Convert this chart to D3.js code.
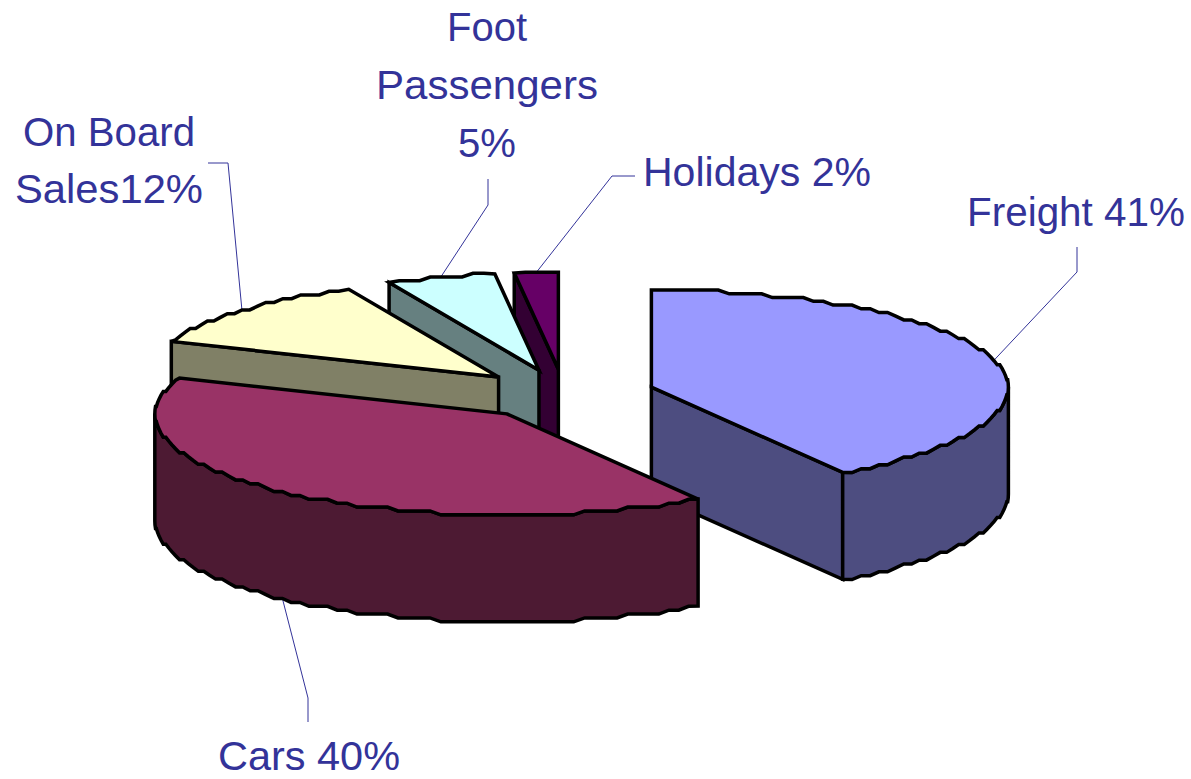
<!DOCTYPE html>
<html>
<head>
<meta charset="utf-8">
<script src="https://cdn.jsdelivr.net/npm/d3@7"></script>
<style>
  html, body { margin: 0; padding: 0; background: #fff; }
  svg { display: block; }
  text { font-family: "Liberation Sans", Arial, sans-serif; fill: #333399; }
</style>
</head>
<body>
<div id="chart"></div>
<script>
// chart values
var categories = ["Freight", "Cars", "On Board Sales", "Foot Passengers", "Holidays"];
var shares = [41, 40, 12, 5, 2];
var labelLines = [
    ["Freight 41%"],
    ["Cars 40%"],
    ["On Board", "Sales12%"],
    ["Foot", "Passengers", "5%"],
    ["Holidays 2%"]
];
var topColors = ["#9999ff", "#993366", "#ffffcc", "#ccffff", "#660066"];
var sideColors = ["#4d4d80", "#4d1a33", "#808066", "#668080", "#330033"];

// leader elbow + far end, and where the text sits (same order as categories)
var leaderEnds = [
    [[1077, 272], [1077, 247]],
    [[308, 698], [308, 722]],
    [[228, 163], [208, 163]],
    [[488, 205], [488, 179]],
    [[612, 176], [635, 176]]
];
var labelBoxes = [
    { x: 1076, y: 226, lh: 0, w: [218] },
    { x: 309, y: 770, lh: 0, w: [182] },
    { x: 109, y: 146, lh: 57, w: [172, 188] },
    { x: 487, y: 41, lh: 58, w: [80, 222, 58] },
    { x: 757, y: 186, lh: 0, w: [228] }
];

var width = 1191;
var height = 779;
var rxLeft = 352;
var rxRight = 357;
var ryBack = 97;
var ryFront = 101;
var depth = 107;
var cx = 564;
var cy = 394;
var explode = 91;
var stairs = 26;
var step = Math.PI / 100;

var svg = d3.select("#chart").append("svg")
    .attr("width", width)
    .attr("height", height);

// near side of the pie is slightly bigger than the far side
var xScale = d3.scaleLinear().domain([-1, 0, 1]).range([-rxLeft, 0, rxRight]);
var yScale = d3.scaleLinear().domain([-1, 0, 1]).range([-ryBack, 0, ryFront]);

var pie = d3.pie().sort(null).value(function(d) { return d; });
var slices = pie(shares);
var line = d3.line();

function project(angle, r, c, drop) {
    var p = d3.pointRadial(angle, r);
    return [c[0] + xScale(p[0]), c[1] + yScale(p[1]) + (drop || 0)];
}

// the rim is a coarse staircase in the original, not a smooth ellipse
function rim(a0, a1, c, drop) {
    var pts = [project(a0, 1, c, drop)];
    var n = Math.max(1, Math.round((a1 - a0) / step));
    for (var i = 1; i < n; i++) {
        var p = d3.pointRadial(a0 + (a1 - a0) * i / n, 1);
        var off = yScale(Math.round(p[1] * stairs) / stairs);
        pts.push([c[0] + xScale(p[0]), c[1] + off + (drop || 0)]);
    }
    pts.push(project(a1, 1, c, drop));
    return pts;
}

var pieces = slices.map(function(d, i) {
    var mid = (d.startAngle + d.endAngle) / 2;
    var off = d3.pointRadial(mid, explode / rxRight);
    return {
        i: i,
        a0: d.startAngle,
        a1: d.endAngle,
        mid: mid,
        c: [cx + xScale(off[0]), cy + yScale(off[1])]
    };
});

// leader lines go under the slices
pieces.forEach(function(s) {
    var wallSide = Math.cos(s.mid) < -0.5;
    var anchor = project(s.mid, 1, s.c, wallSide ? depth : 0);
    svg.append("path")
        .attr("d", line([anchor].concat(leaderEnds[s.i])))
        .attr("fill", "none")
        .attr("stroke", "#333399")
        .attr("stroke-width", 1);
});

// back to front: small slices first, cars sits over freight
var order = [4, 3, 2, 0, 1];
order.forEach(function(idx) {
    var s = pieces[idx];
    var g = svg.append("g");
    var fillStroke = function(sel, col) {
        sel.attr("fill", col)
            .attr("stroke", "#000")
            .attr("stroke-width", 3.5)
            .attr("stroke-linejoin", "miter");
    };

    // cut face of the clockwise-first edge, or the last edge for freight
    var cutAngle = idx === 0 ? s.a1 : s.a0;
    if (idx !== 1) {
        var e = project(cutAngle, 1, s.c);
        var e2 = project(cutAngle, 1, s.c, depth);
        var a2 = [s.c[0], s.c[1] + depth];
        fillStroke(g.append("path").attr("d", line([s.c, e, e2, a2]) + "Z"), sideColors[idx]);
    }

    // outer wall, only the part that faces the viewer
    var w0 = Math.max(s.a0, Math.PI / 2);
    var w1 = Math.min(s.a1, Math.PI * 1.5);
    if (w1 > w0) {
        var upper = rim(w0, w1, s.c);
        var lower = rim(w0, w1, s.c, depth).reverse();
        fillStroke(g.append("path").attr("d", line(upper.concat(lower)) + "Z"), sideColors[idx]);
    }

    // top
    var topPts = [s.c].concat(rim(s.a0, s.a1, s.c));
    fillStroke(g.append("path").attr("d", line(topPts) + "Z"), topColors[idx]);
});

// labels
labelLines.forEach(function(lines, i) {
    var box = labelBoxes[i];
    lines.forEach(function(t, j) {
        svg.append("text")
            .attr("x", box.x)
            .attr("y", box.y + j * box.lh)
            .attr("text-anchor", "middle")
            .attr("font-size", 40.5)
            .attr("textLength", box.w[j])
            .attr("lengthAdjust", "spacingAndGlyphs")
            .text(t);
    });
});
</script>
</body>
</html>
